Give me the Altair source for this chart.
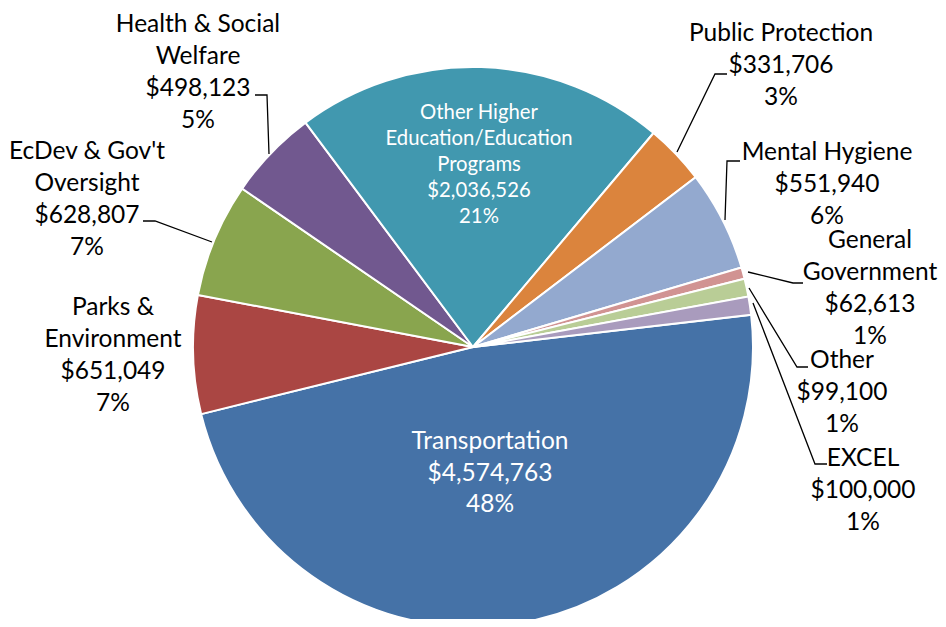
import math
import altair as alt
import pandas as pd

# ---- data ----
categories = ["Transportation", "Parks & Environment", "EcDev & Gov't Oversight",
              "Health & Social Welfare", "Other Higher Education/Education Programs",
              "Public Protection", "Mental Hygiene", "General Government", "Other", "EXCEL"]
amounts = [4574763, 651049, 628807, 498123, 2036526, 331706, 551940, 62613, 99100, 100000]
label_names = ["Transportation", "Parks &\nEnvironment", "EcDev & Gov't\nOversight",
               "Health & Social\nWelfare", "Other Higher\nEducation/Education\nPrograms",
               "Public Protection", "Mental Hygiene", "General\nGovernment", "Other", "EXCEL"]

# ---- styles / layout ----
colors = ["#4572A7", "#AA4643", "#89A54E", "#71588F", "#4198AF",
          "#DB843D", "#93A9CF", "#D19392", "#B9CD96", "#A99BBD"]
FONT = "Lato"
start = math.radians(83.4)
cx, cy, R = 465, 339, 280

# label anchor (centre of first text line), plot pixels
label_x = [482, 105, 79, 190, 471, 773, 819, 862, 834, 855]
label_y = [434, 300, 144, 17, 105, 26, 145, 233, 353, 451]
inside = [True, False, False, False, True, False, False, False, False, False]

# leader lines (plot pixels): label end -> elbow -> slice
leaders = {
    "Health & Social Welfare": [(247, 87), (259, 87), (261, 146)],
    "EcDev & Gov't Oversight": [(135, 213), (147, 213), (204, 234)],
    "Public Protection": [(719, 66), (707, 66), (669, 144)],
    "Mental Hygiene": [(732, 153), (719, 153), (717, 212)],
    "General Government": [(795, 275), (785, 275), (740, 264)],
    "Other": [(800, 359), (789, 359), (741, 280)],
    "EXCEL": [(819, 456), (807, 456), (745, 295)],
}

total = sum(amounts)
df = pd.DataFrame({"cat": categories, "value": amounts, "idx": list(range(len(categories)))})

texts = []
for n, v in zip(label_names, amounts):
    texts.append(f"{n}\n${v:,}\n{round(100 * v / total)}%")
lab = pd.DataFrame({"text": texts, "lx": label_x, "ly": label_y, "inside": inside, "cat": categories})

rows = []
for k, pts in leaders.items():
    for i, (x, y) in enumerate(pts):
        rows.append({"cat": k, "o": i, "x": x, "y": y})
ld = pd.DataFrame(rows)

pie = alt.Chart(df).mark_arc(radius=R, stroke="white", strokeWidth=2).encode(
    theta=alt.Theta("value:Q", stack=True, scale=alt.Scale(range=[start, start + 2 * math.pi])),
    color=alt.Color("cat:N", scale=alt.Scale(domain=categories, range=colors), legend=None),
    order=alt.Order("idx:Q"),
    x=alt.value(cx), y=alt.value(cy),
)

lines = alt.Chart(ld).mark_line(color="black", strokeWidth=1.3).encode(
    x=alt.X("x:Q", scale=None), y=alt.Y("y:Q", scale=None),
    detail="cat:N", order="o:Q",
)

outer = alt.Chart(lab[~lab["inside"]]).mark_text(
    font=FONT, fontSize=24.5, lineBreak="\n", lineHeight=32, align="center",
    baseline="middle", color="black"
).encode(x=alt.X("lx:Q", scale=None), y=alt.Y("ly:Q", scale=None), text="text:N")

trans = alt.Chart(lab[lab["cat"] == "Transportation"]).mark_text(
    font=FONT, fontSize=24.5, lineBreak="\n", lineHeight=31.5, align="center",
    baseline="middle", color="white"
).encode(x=alt.X("lx:Q", scale=None), y=alt.Y("ly:Q", scale=None), text="text:N")

ohe = alt.Chart(lab[lab["cat"] == categories[4]]).mark_text(
    font=FONT, fontSize=20.3, lineBreak="\n", lineHeight=26, align="center",
    baseline="middle", color="white"
).encode(x=alt.X("lx:Q", scale=None), y=alt.Y("ly:Q", scale=None), text="text:N")

chart = alt.layer(pie, lines, outer, trans, ohe).properties(
    width=930, height=611, padding=0, autosize=alt.AutoSizeParams(type="none")
).configure_view(stroke=None)

chart.save("out.html", embed_options={"renderer": "svg", "actions": False})
